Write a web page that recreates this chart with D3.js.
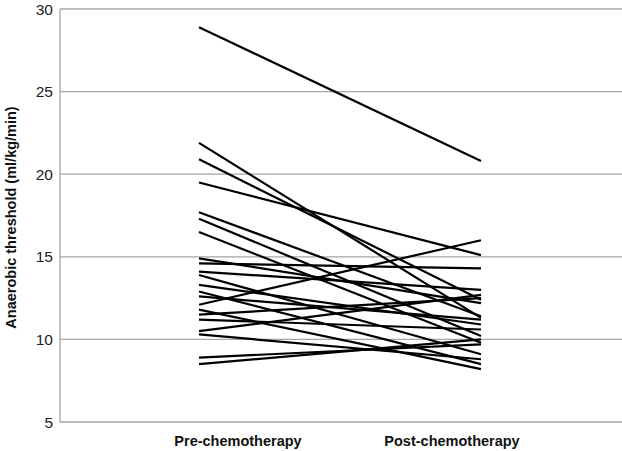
<!DOCTYPE html>
<html>
<head>
<meta charset="utf-8">
<script src="https://cdn.jsdelivr.net/npm/d3@7"></script>
<style>
  body { margin: 0; background: #fff; }
  svg { display: block; font-family: "Liberation Sans", Arial, sans-serif; }
</style>
</head>
<body>
<div id="chart"></div>
<script>
// Sample data
const categories = ["Pre-chemotherapy", "Post-chemotherapy"];
const preValues  = [28.9, 21.9, 20.9, 19.5, 17.7, 17.3, 16.5, 14.9, 14.6, 14.1, 13.9,
                    13.3, 12.9, 12.6, 12.1, 11.8, 11.5, 11.2, 10.5, 10.3, 8.9, 8.5];
const postValues = [20.8, 11.3, 12.4, 15.1, 11.4, 10.2, 9.8, 12.2, 14.3, 13.0, 9.1,
                    10.9, 8.5, 11.2, 16.0, 8.2, 12.5, 10.6, 12.7, 8.8, 9.7, 10.0];
const yTicks = [5, 10, 15, 20, 25, 30];

const width = 622, height = 451;
const margin = {top: 9, right: 0, bottom: 29, left: 60};

const svg = d3.select("#chart")
    .append("svg")
    .attr("width", width)
    .attr("height", height);

const y = d3.scaleLinear()
    .domain([5, 30])
    .range([height - margin.bottom, margin.top]);

// line ends and category labels sit at different spots in the original
const xLine = d3.scalePoint()
    .domain(categories)
    .range([199, 481]);
const xLabel = d3.scalePoint()
    .domain(categories)
    .range([238, 452]);

// gridlines
svg.append("g")
    .selectAll("line")
    .data(yTicks)
    .enter()
    .append("line")
    .attr("x1", margin.left)
    .attr("x2", width)
    .attr("y1", d => y(d))
    .attr("y2", d => y(d))
    .attr("stroke", "#a6a6a6")
    .attr("stroke-width", 1.3);

// y axis line
svg.append("line")
    .attr("x1", margin.left)
    .attr("x2", margin.left)
    .attr("y1", y(30))
    .attr("y2", y(5))
    .attr("stroke", "#a6a6a6")
    .attr("stroke-width", 1.3);

// tick labels
svg.append("g")
    .selectAll("text")
    .data(yTicks)
    .enter()
    .append("text")
    .attr("x", margin.left - 7)
    .attr("y", d => y(d))
    .attr("dy", "0.36em")
    .attr("text-anchor", "end")
    .attr("font-size", 15.5)
    .attr("fill", "#222")
    .text(d => d);

// y title
svg.append("text")
    .attr("transform", `translate(11,${(y(5) + y(30)) / 2 + 2}) rotate(-90)`)
    .attr("dy", "0.35em")
    .attr("text-anchor", "middle")
    .attr("font-size", 14.5)
    .attr("font-weight", "bold")
    .attr("fill", "#111")
    .text("Anaerobic threshold (ml/kg/min)");

// category labels
svg.append("g")
    .selectAll("text")
    .data(categories)
    .enter()
    .append("text")
    .attr("x", d => xLabel(d))
    .attr("y", 446)
    .attr("text-anchor", "middle")
    .attr("font-size", 14.5)
    .attr("font-weight", "bold")
    .attr("fill", "#111")
    .text(d => d);

// patient lines
const pairs = preValues.map((v, i) => [v, postValues[i]]);
svg.append("g")
    .selectAll("line")
    .data(pairs)
    .enter()
    .append("line")
    .attr("x1", xLine(categories[0]))
    .attr("x2", xLine(categories[1]))
    .attr("y1", d => y(d[0]))
    .attr("y2", d => y(d[1]))
    .attr("stroke", "#000")
    .attr("stroke-width", 2.2);
</script>
</body>
</html>
